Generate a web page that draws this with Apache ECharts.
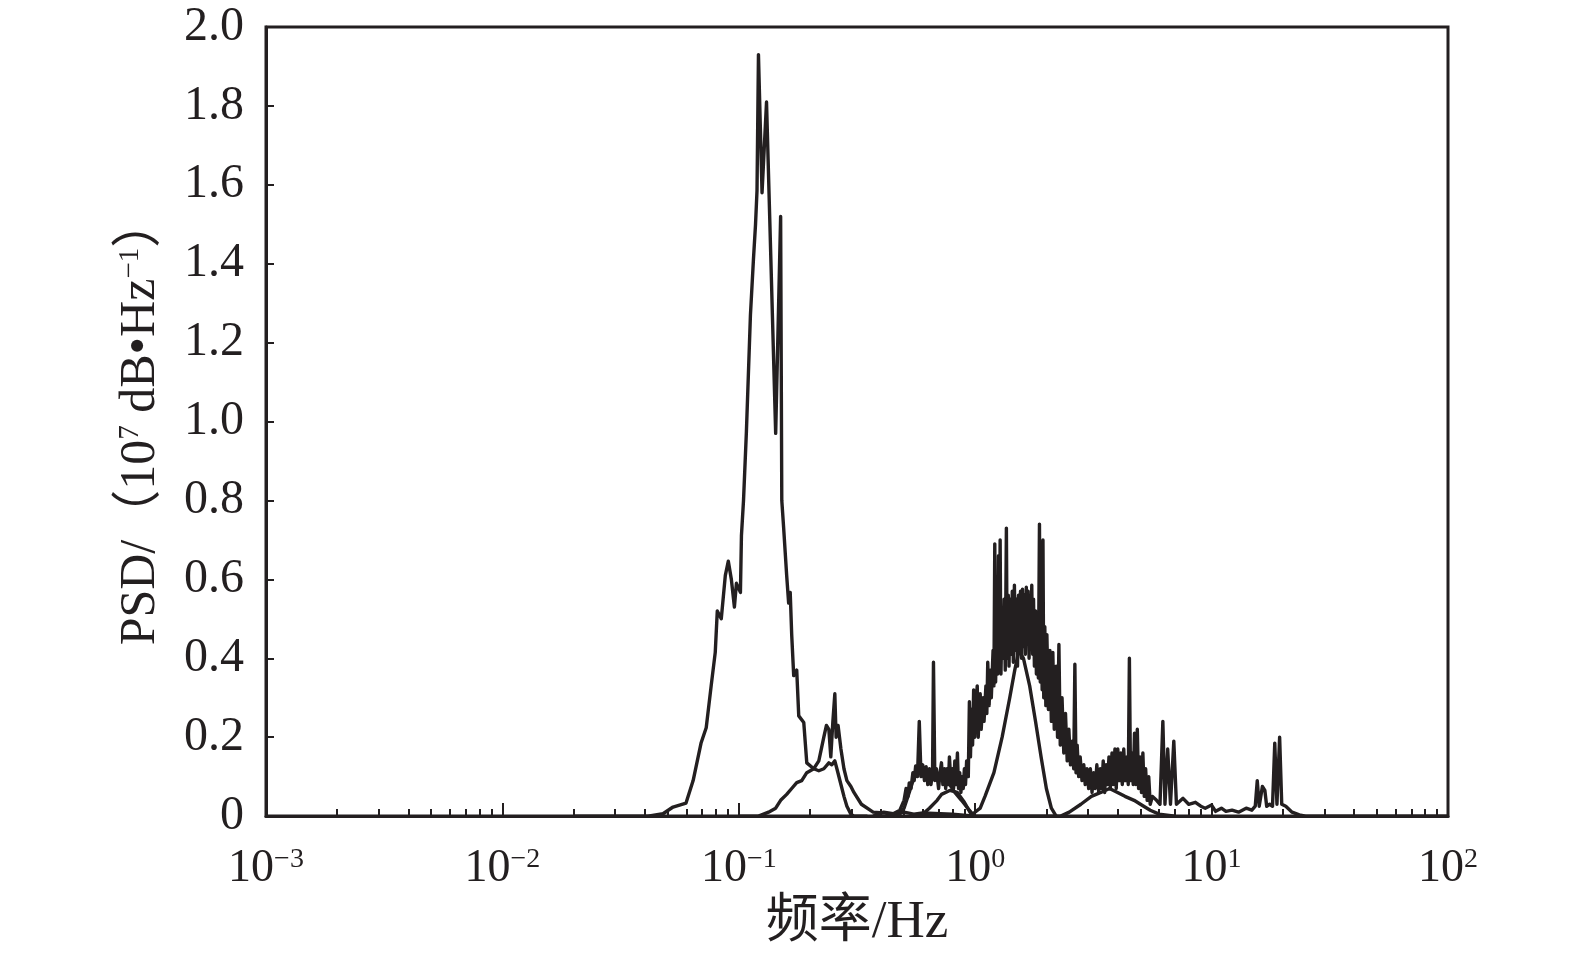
<!DOCTYPE html>
<html>
<head>
<meta charset="utf-8">
<script src="https://cdn.jsdelivr.net/npm/echarts@6/dist/echarts.min.js"></script>
<style>
html,body{margin:0;padding:0;background:#fff;}
#chart{width:1575px;height:955px;}
</style>
</head>
<body>
<div id="chart"></div>
<script>
// Frequency (Hz) / PSD (10^7 dB·Hz^-1) pairs
const seriesA = [[0.02,0],[0.0413,0],[0.0478,0.006],[0.0527,0.023],[0.0598,0.033],[0.0641,0.09],[0.0693,0.186],[0.0728,0.224],[0.0764,0.33],[0.0795,0.415],[0.0811,0.52],[0.0843,0.50],[0.0877,0.61],[0.0903,0.646],[0.0930,0.60],[0.0958,0.53],[0.0977,0.59],[0.1016,0.567],[0.1026,0.71],[0.1047,0.80],[0.1077,0.975],[0.1120,1.27],[0.1153,1.41],[0.1177,1.50],[0.1194,1.585],[0.1211,1.93],[0.1254,1.58],[0.1310,1.81],[0.1432,0.97],[0.1503,1.52],[0.152,0.80],[0.1548,0.73],[0.1594,0.61],[0.1625,0.54],[0.1650,0.567],[0.1674,0.46],[0.1707,0.356],[0.1758,0.37],[0.1793,0.254],[0.1883,0.237],[0.1939,0.135],[0.2075,0.12],[0.218,0.115],[0.2289,0.12],[0.2404,0.135],[0.2475,0.13],[0.2548,0.14],[0.2600,0.12],[0.2704,0.08],[0.2785,0.05],[0.2866,0.025],[0.298,0.005],[0.3069,0],[0.35,0]];
const seriesB = [[0.10,0],[0.1211,0],[0.1336,0.01],[0.1432,0.02],[0.1503,0.04],[0.1594,0.055],[0.1674,0.07],[0.1758,0.085],[0.1846,0.09],[0.1939,0.11],[0.2075,0.12],[0.218,0.14],[0.2289,0.20],[0.2348,0.23],[0.2404,0.22],[0.2450,0.15],[0.2500,0.24],[0.2548,0.31],[0.2580,0.20],[0.2630,0.23],[0.2704,0.17],[0.2785,0.12],[0.2866,0.09],[0.298,0.075],[0.3069,0.06],[0.33,0.03],[0.37,0.01],[0.41,0.008],[0.45,0.004],[0.5,0.01],[0.55,0.005],[0.6,0.008],[0.8,0.005],[1.0,0]];
const seriesC = [[0.45,0],[0.48,0.005],[0.50,0.02],[0.526,0.06],[0.552,0.10],[0.58,0.12],[0.61,0.11],[0.64,0.10],[0.69,0.095],[0.74,0.09],[0.78,0.08],[0.82,0.06],[0.875,0.04],[0.93,0.02],[0.975,0.005],[1.0,0],[2.3,0],[2.5,0.01],[2.8,0.03],[3.1,0.05],[3.4,0.06],[3.7,0.07],[4.0,0.06],[4.3,0.05],[4.7,0.04],[5.0,0.03],[5.5,0.015],[6.0,0.005],[7.0,0]];
const seriesD = [[0.55,0],[0.6,0.005],[0.64,0.02],[0.69,0.04],[0.72,0.055],[0.78,0.065],[0.84,0.06],[0.9,0.035],[0.95,0.01],[0.97,0.004],[1.05,0.02],[1.1,0.05],[1.2,0.11],[1.3,0.2],[1.4,0.3],[1.47,0.37],[1.53,0.42],[1.6,0.40],[1.7,0.33],[1.8,0.24],[1.9,0.15],[2.0,0.07],[2.1,0.02],[2.2,0]];
const seriesE = [[0.37,0],[0.41,0.01],[0.45,0.006],[0.48,0.015],[0.50,0.04],[0.51,0.07],[0.52,0.05],[0.526,0.084],[0.535,0.07],[0.545,0.11],[0.552,0.09],[0.56,0.127],[0.57,0.10],[0.58,0.24],[0.59,0.10],[0.60,0.13],[0.61,0.09],[0.62,0.125],[0.63,0.08],[0.64,0.12],[0.65,0.08],[0.66,0.11],[0.666,0.39],[0.675,0.09],[0.685,0.12],[0.70,0.07],[0.71,0.11],[0.72,0.135],[0.73,0.08],[0.741,0.12],[0.75,0.07],[0.76,0.12],[0.77,0.08],[0.778,0.15],[0.79,0.08],[0.80,0.12],[0.81,0.07],[0.82,0.14],[0.83,0.08],[0.841,0.16],[0.85,0.07],[0.86,0.11],[0.87,0.06],[0.88,0.10],[0.89,0.07],[0.90,0.12],[0.91,0.08],[0.92,0.14],[0.935,0.10],[0.945,0.29],[0.955,0.15],[0.965,0.27],[0.975,0.18],[0.985,0.32],[0.995,0.20],
  [1.00,0.26],[1.02,0.33],[1.03,0.20],[1.05,0.31],[1.06,0.22],[1.08,0.30],[1.09,0.24],[1.11,0.33],[1.12,0.26],[1.13,0.39],[1.145,0.28],[1.16,0.37],[1.17,0.30],[1.19,0.42],[1.20,0.33],[1.21,0.69],[1.22,0.34],[1.235,0.50],[1.245,0.36],[1.255,0.66],[1.265,0.38],[1.275,0.70],[1.285,0.36],[1.30,0.52],[1.31,0.40],[1.325,0.55],[1.34,0.37],[1.355,0.73],[1.365,0.40],[1.38,0.56],[1.39,0.38],[1.405,0.55],[1.42,0.41],[1.435,0.57],[1.45,0.39],[1.465,0.585],[1.48,0.42],[1.495,0.55],[1.51,0.38],[1.525,0.56],[1.54,0.42],[1.555,0.57],[1.57,0.40],[1.585,0.575],[1.60,0.43],[1.615,0.56],[1.63,0.41],[1.645,0.58],[1.66,0.44],[1.675,0.57],[1.69,0.40],[1.705,0.56],[1.72,0.43],[1.735,0.585],[1.75,0.41],[1.765,0.55],[1.78,0.38],[1.80,0.52],[1.815,0.36],[1.83,0.50],[1.85,0.35],[1.87,0.74],[1.885,0.34],[1.90,0.52],[1.92,0.32],[1.935,0.70],[1.95,0.30],[1.97,0.48],[1.99,0.28],[2.01,0.46],[2.04,0.27],[2.07,0.42],[2.10,0.24],[2.13,0.415],[2.16,0.22],[2.20,0.38],[2.23,0.20],[2.26,0.435],[2.29,0.18],[2.33,0.30],[2.37,0.16],[2.41,0.26],[2.45,0.14],[2.49,0.22],[2.53,0.13],[2.57,0.19],[2.61,0.12],[2.64,0.385],[2.67,0.11],[2.70,0.18],[2.74,0.10],[2.78,0.15],[2.83,0.09],[2.88,0.13],[2.92,0.08],[2.97,0.12],[3.02,0.07],
  [3.07,0.12],[3.12,0.06],[3.17,0.11],[3.22,0.07],[3.27,0.13],[3.33,0.06],[3.38,0.12],[3.43,0.07],[3.48,0.14],[3.53,0.06],[3.58,0.13],[3.63,0.08],[3.68,0.15],[3.73,0.07],[3.79,0.16],[3.84,0.08],[3.90,0.17],[3.95,0.07],[4.01,0.17],[4.07,0.09],[4.13,0.16],[4.19,0.08],[4.25,0.17],[4.31,0.09],[4.38,0.15],[4.44,0.08],[4.49,0.40],[4.54,0.09],[4.60,0.16],[4.66,0.08],[4.72,0.21],[4.78,0.08],[4.85,0.22],[4.91,0.07],[4.98,0.15],[5.05,0.06],[5.12,0.16],[5.19,0.05],[5.26,0.12],[5.34,0.04],[5.42,0.10],[5.50,0.03],[5.62,0.05],[5.85,0.04],[6.05,0.03],[6.22,0.24],[6.35,0.03],[6.52,0.17],[6.70,0.03],[6.92,0.19],[7.10,0.03],[7.57,0.045],[8.0,0.03],[8.54,0.035],[9.0,0.025],[9.4,0.02],[10.0,0.028],[10.4,0.012],[11.0,0.02],[11.5,0.012],[12.2,0.015],[13.0,0.01],[14.0,0.02],[14.8,0.015],[15.3,0.025],[15.6,0.09],[15.9,0.025],[16.4,0.075],[16.8,0.065],[17.1,0.025],[17.6,0.03],[18.1,0.025],[18.5,0.185],[18.9,0.03],[19.4,0.20],[19.8,0.03],[20.6,0.025],[21.9,0.01],[23.5,0.003],[25.0,0],[100,0]];

const xMajorTicks = [0.001, 0.01, 0.1, 1, 10, 100];
const xTickExponents = ['−3', '−2', '−1', '0', '1', '2'];
const xMinorTicks = [0.002,0.003,0.004,0.005,0.006,0.007,0.008,0.009,
  0.02,0.03,0.04,0.05,0.06,0.07,0.08,0.09,
  0.2,0.3,0.4,0.5,0.6,0.7,0.8,0.9,
  2,3,4,5,6,7,8,9,
  20,30,40,50,60,70,80,90];
const yTickLabels = ['0','0.2','0.4','0.6','0.8','1.0','1.2','1.4','1.6','1.8','2.0'];

const INK = '#231f20';
const FONT = "'Liberation Serif','Times New Roman','Noto Sans CJK SC',serif";

const chart = echarts.init(document.getElementById('chart'));
const lineSeries = [seriesA, seriesB, seriesC, seriesD, seriesE].map(function (d) {
  return {
    type: 'line', data: d, xAxisIndex: 0, yAxisIndex: 0,
    showSymbol: false, symbol: 'none', silent: true,
    lineStyle: { color: INK, width: 3.4, join: 'round' },
    animation: false
  };
});

chart.setOption({
  animation: false,
  backgroundColor: '#ffffff',
  grid: { left: 266, right: 127, top: 27, bottom: 138, show: true, borderColor: INK, borderWidth: 3, backgroundColor: 'transparent' },
  xAxis: [{
    type: 'log', logBase: 10, min: 0.001, max: 100,
    name: '频率/Hz', nameLocation: 'middle', nameGap: 80,
    nameTextStyle: { fontFamily: FONT, fontSize: 53, color: INK },
    axisLine: { show: true, lineStyle: { color: INK, width: 3 } },
    axisTick: { show: true, inside: true, length: 13, lineStyle: { color: INK, width: 2 }, customValues: xMajorTicks },
    axisLabel: {
      show: true, margin: 30, color: INK, fontFamily: FONT, customValues: xMajorTicks,
      formatter: function (v) {
        const i = xMajorTicks.findIndex(function (t) { return Math.abs(Math.log10(t) - Math.log10(v)) < 1e-6; });
        return '{b|10}{s|' + (i >= 0 ? xTickExponents[i] : '') + '}';
      },
      rich: {
        b: { fontFamily: FONT, fontSize: 46, color: INK, lineHeight: 46 },
        s: { fontFamily: FONT, fontSize: 28, color: INK, lineHeight: 28, verticalAlign: 'top', padding: [0, 0, 14, 0] }
      }
    },
    splitLine: { show: false }, minorTick: { show: false }
  }, {
    type: 'log', logBase: 10, min: 0.001, max: 100, position: 'bottom',
    axisLine: { show: false },
    axisTick: { show: true, inside: true, length: 7, lineStyle: { color: INK, width: 2 }, customValues: xMinorTicks },
    axisLabel: { show: false },
    splitLine: { show: false }
  }],
  yAxis: {
    type: 'value', min: 0, max: 2, interval: 0.2,
    name: 'PSD/（10{s|7} dB•Hz{s|−1}）', nameLocation: 'middle', nameGap: 100, nameRotate: 90,
    nameTextStyle: {
      fontFamily: FONT, fontSize: 50, color: INK,
      rich: { s: { fontFamily: FONT, fontSize: 29, color: INK, verticalAlign: 'top', lineHeight: 29, padding: [0, 0, 16, 0] } }
    },
    axisLine: { show: true, lineStyle: { color: INK, width: 3 } },
    axisTick: { show: true, inside: true, length: 8, lineStyle: { color: INK, width: 2 } },
    axisLabel: {
      show: true, margin: 22, color: INK, fontFamily: FONT, fontSize: 48,
      formatter: function (v) { return yTickLabels[Math.round(v / 0.2)]; }
    },
    splitLine: { show: false }
  },
  series: lineSeries
});
</script>
</body>
</html>
